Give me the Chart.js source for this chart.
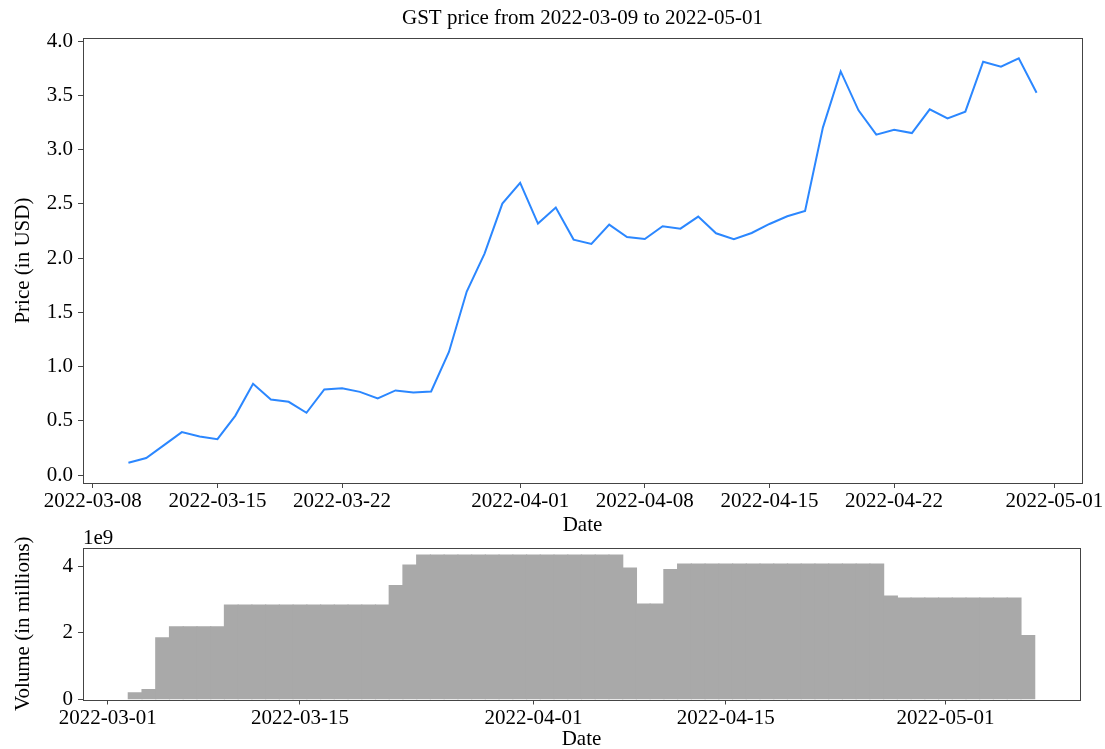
<!DOCTYPE html>
<html>
<head>
<meta charset="utf-8">
<script src="https://cdn.jsdelivr.net/npm/chart.js@4/dist/chart.umd.min.js"></script>
<style>
  html, body { margin: 0; padding: 0; background: #fff; overflow: hidden; }
  #priceBox { position: absolute; left: 0; top: 0; width: 1105px; height: 540px; }
  #volumeBox { position: absolute; left: 0; top: 510px; width: 1105px; height: 239px; }
</style>
</head>
<body>
<div id="priceBox"><canvas id="priceChart" width="1105" height="540"></canvas></div>
<div id="volumeBox"><canvas id="volumeChart" width="1105" height="239"></canvas></div>
<script>
// price series (daily)
const priceDates = [
  '2022-03-10', '2022-03-11', '2022-03-12', '2022-03-13', '2022-03-14', '2022-03-15', '2022-03-16',
  '2022-03-17', '2022-03-18', '2022-03-19', '2022-03-20', '2022-03-21', '2022-03-22', '2022-03-23',
  '2022-03-24', '2022-03-25', '2022-03-26', '2022-03-27', '2022-03-28', '2022-03-29', '2022-03-30',
  '2022-03-31', '2022-04-01', '2022-04-02', '2022-04-03', '2022-04-04', '2022-04-05', '2022-04-06',
  '2022-04-07', '2022-04-08', '2022-04-09', '2022-04-10', '2022-04-11', '2022-04-12', '2022-04-13',
  '2022-04-14', '2022-04-15', '2022-04-16', '2022-04-17', '2022-04-18', '2022-04-19', '2022-04-20',
  '2022-04-21', '2022-04-22', '2022-04-23', '2022-04-24', '2022-04-25', '2022-04-26', '2022-04-27',
  '2022-04-28', '2022-04-29', '2022-04-30'
];
const priceValues = [
  0.113, 0.157, 0.276, 0.396, 0.356, 0.331, 0.546,
  0.841, 0.697, 0.675, 0.574, 0.789, 0.801, 0.767,
  0.706, 0.780, 0.761, 0.771, 1.135, 1.691, 2.041,
  2.502, 2.692, 2.318, 2.465, 2.170, 2.130, 2.308,
  2.194, 2.176, 2.293, 2.271, 2.382, 2.228, 2.173,
  2.231, 2.314, 2.385, 2.434, 3.202, 3.720, 3.361,
  3.137, 3.183, 3.152, 3.370, 3.287, 3.349, 3.809,
  3.763, 3.840, 3.524
];
const priceXTicks = ['2022-03-08', '2022-03-15', '2022-03-22', '2022-04-01', '2022-04-08', '2022-04-15', '2022-04-22', '2022-05-01'];
const priceYTicks = [0, 0.5, 1.0, 1.5, 2.0, 2.5, 3.0, 3.5, 4.0];

// volume series (daily bars)
const volumeDates = [
  '2022-03-03', '2022-03-04', '2022-03-05', '2022-03-06', '2022-03-07', '2022-03-08', '2022-03-09',
  '2022-03-10', '2022-03-11', '2022-03-12', '2022-03-13', '2022-03-14', '2022-03-15', '2022-03-16',
  '2022-03-17', '2022-03-18', '2022-03-19', '2022-03-20', '2022-03-21', '2022-03-22', '2022-03-23',
  '2022-03-24', '2022-03-25', '2022-03-26', '2022-03-27', '2022-03-28', '2022-03-29', '2022-03-30',
  '2022-03-31', '2022-04-01', '2022-04-02', '2022-04-03', '2022-04-04', '2022-04-05', '2022-04-06',
  '2022-04-07', '2022-04-08', '2022-04-09', '2022-04-10', '2022-04-11', '2022-04-12', '2022-04-13',
  '2022-04-14', '2022-04-15', '2022-04-16', '2022-04-17', '2022-04-18', '2022-04-19', '2022-04-20',
  '2022-04-21', '2022-04-22', '2022-04-23', '2022-04-24', '2022-04-25', '2022-04-26', '2022-04-27',
  '2022-04-28', '2022-04-29', '2022-04-30', '2022-05-01', '2022-05-02', '2022-05-03', '2022-05-04',
  '2022-05-05', '2022-05-06', '2022-05-07'
];
const volumeValues = [
  0.20e9, 0.30e9, 1.85e9, 2.18e9, 2.18e9, 2.18e9, 2.18e9,
  2.83e9, 2.83e9, 2.83e9, 2.83e9, 2.83e9, 2.83e9, 2.83e9,
  2.83e9, 2.83e9, 2.83e9, 2.83e9, 2.83e9, 3.42e9, 4.03e9,
  4.33e9, 4.33e9, 4.33e9, 4.33e9, 4.33e9, 4.33e9, 4.33e9,
  4.33e9, 4.33e9, 4.33e9, 4.33e9, 4.33e9, 4.33e9, 4.33e9,
  4.33e9, 3.94e9, 2.86e9, 2.86e9, 3.90e9, 4.06e9, 4.06e9,
  4.06e9, 4.06e9, 4.06e9, 4.06e9, 4.06e9, 4.06e9, 4.06e9,
  4.06e9, 4.06e9, 4.06e9, 4.06e9, 4.06e9, 4.06e9, 3.10e9,
  3.04e9, 3.04e9, 3.04e9, 3.04e9, 3.04e9, 3.04e9, 3.04e9,
  3.04e9, 3.04e9, 1.92e9
];
const volumeXTicks = ['2022-03-01', '2022-03-15', '2022-04-01', '2022-04-15', '2022-05-01'];
const volumeYTicks = [0, 2e9, 4e9];

const DAY = 86400000;
const toX = s => Date.parse(s) / DAY;
const fmtDate = v => new Date(Math.round(v) * DAY).toISOString().slice(0, 10);

const FONT = "'Liberation Serif', 'Times New Roman', serif";
const SPINE = '#444';
Chart.defaults.font.family = FONT;
Chart.defaults.font.size = 21;
Chart.defaults.color = '#000';

// box around the plot area, like matplotlib spines
const framePlugin = {
  id: 'frame',
  afterDatasetsDraw(chart) {
    const { ctx, chartArea: a } = chart;
    ctx.save();
    ctx.strokeStyle = SPINE;
    ctx.lineWidth = 1;
    ctx.strokeRect(Math.round(a.left) + 0.5, Math.round(a.top) + 0.5,
      Math.round(a.right - a.left), Math.round(a.bottom - a.top));
    ctx.restore();
  }
};

// "1e9" offset text above the volume axis
const offsetTextPlugin = {
  id: 'offsetText',
  afterDraw(chart) {
    const { ctx, chartArea: a } = chart;
    ctx.save();
    ctx.font = '21px ' + FONT;
    ctx.fillStyle = '#000';
    ctx.textAlign = 'left';
    ctx.textBaseline = 'alphabetic';
    ctx.fillText('1e9', a.left, a.top - 4);
    ctx.restore();
  }
};

function tickGrid() {
  return { display: true, drawOnChartArea: false, drawTicks: true, tickLength: 5, tickColor: SPINE, tickWidth: 1, offset: false };
}

new Chart(document.getElementById('priceChart'), {
  type: 'line',
  data: {
    datasets: [{
      data: priceDates.map((d, i) => ({ x: toX(d), y: priceValues[i] })),
      borderColor: '#2b87ff',
      borderWidth: 2,
      pointRadius: 0,
      tension: 0,
      fill: false
    }]
  },
  options: {
    responsive: false,
    animation: false,
    devicePixelRatio: 1,
    layout: { padding: { left: 0, right: 23, top: 0, bottom: 0 } },
    plugins: {
      legend: { display: false },
      tooltip: { enabled: false },
      title: {
        display: true,
        fullSize: false,
        text: 'GST price from 2022-03-09 to 2022-05-01',
        font: { size: 21, weight: 'normal' },
        color: '#000',
        padding: { top: 6, bottom: 7 }
      }
    },
    scales: {
      x: {
        type: 'linear',
        min: toX(priceDates[0]) - 2.55,
        max: toX(priceDates[priceDates.length - 1]) + 2.55,
        afterBuildTicks: s => { s.ticks = priceXTicks.map(d => ({ value: toX(d) })); },
        afterFit: s => { s.height = 57; },
        ticks: { autoSkip: false, maxRotation: 0, padding: 1, callback: v => fmtDate(v) },
        grid: tickGrid(),
        border: { display: false },
        title: { display: true, text: 'Date', padding: { top: 0, bottom: 2.4 } }
      },
      y: {
        min: -0.073,
        max: 4.026,
        afterBuildTicks: s => { s.ticks = priceYTicks.map(v => ({ value: v })); },
        afterFit: s => { s.width = 83; },
        ticks: { padding: 5, callback: v => v.toFixed(1) },
        grid: tickGrid(),
        border: { display: false },
        title: { display: true, text: 'Price (in USD)', padding: { top: 11, bottom: 0 } }
      }
    }
  },
  plugins: [framePlugin]
});

new Chart(document.getElementById('volumeChart'), {
  type: 'bar',
  data: {
    datasets: [{
      data: volumeDates.map((d, i) => ({ x: toX(d), y: volumeValues[i] })),
      backgroundColor: '#a9a9a9',
      borderWidth: 0,
      inflateAmount: 0.6,
      barPercentage: 1,
      categoryPercentage: 1
    }]
  },
  options: {
    responsive: false,
    animation: false,
    devicePixelRatio: 1,
    layout: { padding: { left: 0, right: 25, top: 38, bottom: 0 } },
    plugins: {
      legend: { display: false },
      tooltip: { enabled: false }
    },
    scales: {
      x: {
        type: 'linear',
        offset: false,
        min: toX(volumeDates[0]) - 0.5 - 3.3,
        max: toX(volumeDates[volumeDates.length - 1]) + 0.5 + 3.3,
        afterBuildTicks: s => { s.ticks = volumeXTicks.map(d => ({ value: toX(d) })); },
        afterFit: s => { s.height = 49.5; },
        ticks: { autoSkip: false, maxRotation: 0, padding: 1, callback: v => fmtDate(v) },
        grid: tickGrid(),
        border: { display: false },
        title: { display: true, text: 'Date', font: { lineHeight: 1 }, padding: { top: 0, bottom: -1 } }
      },
      y: {
        min: 0,
        max: 4.33e9 * 1.05,
        afterBuildTicks: s => { s.ticks = volumeYTicks.map(v => ({ value: v })); },
        afterFit: s => { s.width = 83; s.paddingTop = 0; s.paddingBottom = 0; },
        ticks: { padding: 5, callback: v => (v / 1e9).toFixed(0) },
        grid: tickGrid(),
        border: { display: false },
        title: { display: true, text: 'Volume (in millions)', padding: { top: 11, bottom: 0 } }
      }
    }
  },
  plugins: [framePlugin, offsetTextPlugin]
});
</script>
</body>
</html>
